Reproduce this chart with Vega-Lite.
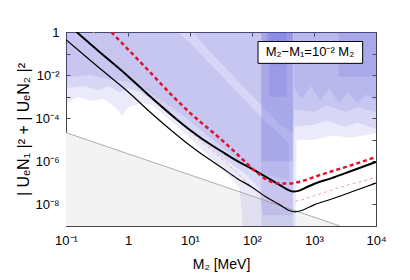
{
  "$schema": "https://vega.github.io/schema/vega-lite/v6.json",
  "width": 310,
  "height": 194,
  "autosize": {"type": "none"},
  "padding": {"left": 66, "top": 32, "right": 34, "bottom": 54},
  "background": "white",
  "config": {
    "font": "Liberation Sans",
    "view": {"stroke": "#444", "strokeWidth": 1},
    "axis": {"grid": false, "domain": false, "tickColor": "#444", "tickSize": -4, "labelFontSize": 13, "labelColor": "#000", "titleFontSize": 14, "titleFontWeight": "normal", "titleColor": "#000", "labelFont": "Liberation Sans", "titleFont": "Liberation Sans"}
  },
  "datasets": {
    "gray": [{"m": 0.1, "u": 2.14e-5}, {"m": 2630, "u": 1e-9}],
    "tb": [{"m":0.148,"u":1},{"m":0.316,"u":0.151},{"m":1,"u":8.91e-3},{"m":2.239,"u":1.07e-3},{"m":5.012,"u":1.41e-4},{"m":10,"u":2.82e-5},{"m":16.4,"u":1e-5},{"m":31.6,"u":3.02e-6},{"m":56.6,"u":1.07e-6},{"m":100,"u":4.47e-7},{"m":162,"u":2.0e-7},{"m":281.8,"u":7.94e-8},{"m":398,"u":4.47e-8},{"m":467.7,"u":3.98e-8},{"m":562.3,"u":4.27e-8},{"m":794,"u":6.61e-8},{"m":1000,"u":8.91e-8},{"m":1928,"u":1.66e-7},{"m":3981,"u":3.55e-7},{"m":10000,"u":9.33e-7}],
    "tn": [{"m":0.1,"u":0.437},{"m":0.316,"u":2.63e-2},{"m":1,"u":1.7e-3},{"m":2.239,"u":2.0e-4},{"m":5.012,"u":2.69e-5},{"m":10,"u":5.37e-6},{"m":16.4,"u":1.9e-6},{"m":31.6,"u":5.37e-7},{"m":56.6,"u":1.66e-7},{"m":100,"u":6.31e-8},{"m":162,"u":2.4e-8},{"m":281.8,"u":9.55e-9},{"m":398,"u":5.25e-9},{"m":489.8,"u":4.57e-9},{"m":631,"u":5.25e-9},{"m":1000,"u":9.55e-9},{"m":1928,"u":1.78e-8},{"m":3981,"u":3.8e-8},{"m":10000,"u":9.77e-8}],
    "rd": [{"m":0.537,"u":1},{"m":1,"u":0.158},{"m":2.239,"u":1.41e-2},{"m":5.37,"u":1e-3},{"m":10,"u":1.78e-4},{"m":15.85,"u":5.62e-5},{"m":26.9,"u":1.585e-5},{"m":50.1,"u":3.16e-6},{"m":79.4,"u":8.91e-7},{"m":117.5,"u":3.16e-7},{"m":173.8,"u":1.41e-7},{"m":251,"u":9.55e-8},{"m":398,"u":9.33e-8},{"m":631,"u":1.2e-7},{"m":1096,"u":2.04e-7},{"m":1995,"u":3.55e-7},{"m":3802,"u":6.31e-7},{"m":10000,"u":1.585e-6}],
    "pk": [{"m":0.275,"u":1},{"m":0.537,"u":0.135},{"m":1,"u":2.14e-2},{"m":2.239,"u":1.905e-3},{"m":5.37,"u":1.35e-4},{"m":10,"u":2.4e-5},{"m":15.85,"u":7.59e-6},{"m":26.9,"u":2.14e-6},{"m":50.1,"u":4.27e-7},{"m":79.4,"u":1.2e-7},{"m":117.5,"u":4.27e-8},{"m":173.8,"u":1.905e-8},{"m":251,"u":1.29e-8},{"m":398,"u":1.26e-8},{"m":631,"u":1.62e-8},{"m":1096,"u":2.75e-8},{"m":1995,"u":4.79e-8},{"m":3802,"u":8.51e-8},{"m":10000,"u":1.8e-7}],
    "env": [{"m":0.1,"lo":5.01e-4},{"m":0.158,"lo":1e-3},{"m":0.251,"lo":6.31e-4},{"m":0.398,"lo":7.94e-4},{"m":0.631,"lo":3.16e-4},{"m":0.794,"lo":1.26e-4},{"m":1,"lo":3.16e-4},{"m":1.585,"lo":5.01e-4},{"m":2.512,"lo":3.98e-4},{"m":3.981,"lo":1.26e-4},{"m":6.31,"lo":3.98e-5},{"m":10,"lo":1.26e-5},{"m":15.85,"lo":3.16e-6},{"m":31.6,"lo":5.01e-7},{"m":50.1,"lo":1.26e-7},{"m":63.1,"lo":5.01e-8},{"m":70.8,"lo":1e-9},{"m":501,"lo":1e-9},{"m":524.8,"lo":1e-5},{"m":1000,"lo":1e-5},{"m":1995,"lo":1.585e-5},{"m":3981,"lo":1.26e-5},{"m":10000,"lo":2.0e-5}],
    "r2": [{"m":0.1,"lo":2.51e-3},{"m":0.2,"lo":3.16e-3},{"m":0.316,"lo":2.0e-3},{"m":0.501,"lo":3.16e-3},{"m":0.708,"lo":1.585e-3},{"m":1,"lo":2.51e-3},{"m":1.585,"lo":1.585e-3},{"m":2.512,"lo":6.31e-4},{"m":3.981,"lo":2.51e-4},{"m":6.31,"lo":7.94e-5},{"m":10,"lo":2.51e-5},{"m":19.95,"lo":5.01e-6},{"m":39.8,"lo":1e-6},{"m":79.4,"lo":2.51e-7},{"m":125.9,"lo":6.31e-8},{"m":151.4,"lo":3.16e-9},{"m":457,"lo":3.16e-9},{"m":478.6,"lo":3.98e-5},{"m":1000,"lo":5.01e-5},{"m":1585,"lo":7.94e-5},{"m":3162,"lo":3.98e-5},{"m":5012,"lo":6.31e-5},{"m":10000,"lo":3.16e-5}],
    "r3": [{"m":0.1,"lo":7.94e-3,"hi":1},{"m":0.251,"lo":1e-2,"hi":1},{"m":0.501,"lo":6.31e-3,"hi":1},{"m":1,"lo":5.01e-3,"hi":1},{"m":1.995,"lo":2.0e-3,"hi":1},{"m":3.981,"lo":5.01e-4,"hi":1},{"m":6.31,"lo":2.0e-4,"hi":1},{"m":7.943,"lo":1.26e-4,"hi":0.562},{"m":10,"lo":7.08e-5,"hi":0.316},{"m":15.85,"lo":2.51e-5,"hi":7.94e-2},{"m":31.6,"lo":5.01e-6,"hi":1e-2},{"m":63.1,"lo":1e-6,"hi":1.26e-3},{"m":100,"lo":3.98e-7,"hi":3.16e-4},{"m":125.9,"lo":3.16e-7,"hi":1.585e-4},{"m":158.5,"lo":2.51e-7,"hi":7.94e-5},{"m":251,"lo":1.78e-7,"hi":2.51e-5},{"m":398,"lo":1.26e-7,"hi":6.31e-6}],
    "r4": [{"m":11.2,"lo":1},{"m":17.8,"lo":0.2},{"m":35.5,"lo":2.51e-2},{"m":70.8,"lo":3.16e-3},{"m":141,"lo":3.98e-4},{"m":282,"lo":5.01e-5},{"m":457,"lo":2.0e-5},{"m":478.6,"lo":2.51e-4},{"m":1000,"lo":2.0e-4},{"m":1585,"lo":3.98e-4},{"m":3162,"lo":2.0e-4},{"m":5012,"lo":3.16e-4},{"m":10000,"lo":2.0e-4}],
    "r5": [{"m":141,"lo":1e-9},{"m":457,"lo":1e-9}],
    "r6": [{"m":141,"lo":1e-6},{"m":457,"lo":1e-6}],
    "r7a": [{"m":170,"lo":0.0316},{"m":457,"lo":0.0316}],
    "r7b": [{"m":190,"lo":1e-3},{"m":360,"lo":1e-3}],
    "r8": [{"m":2512,"lo":8.3e-3},{"m":10000,"lo":8.3e-3}],
    "r9": [{"m":478.6,"lo":2.51e-3},{"m":631,"lo":7.94e-4},{"m":891,"lo":3.16e-3},{"m":1259,"lo":6.31e-4},{"m":1778,"lo":2.51e-3},{"m":2512,"lo":5.01e-4},{"m":3548,"lo":1.585e-3},{"m":5012,"lo":5.01e-4},{"m":7079,"lo":1.26e-3},{"m":10000,"lo":6.31e-4}],
    "box": [{"label": "M₂−M₁=10⁻² M₂"}]
  },
  "resolve": {"axis": {"x": "independent", "y": "independent"}},
  "layer": [
    {
      "data": {"name": "gray"},
      "mark": {"type": "area", "color": "#f3f3f3", "clip": true},
      "encoding": {
        "x": {"field": "m", "type": "quantitative", "scale": {"type": "log", "domain": [0.1, 10000]},
              "axis": {"orient": "bottom", "values": [0.1, 1, 10, 100, 1000, 10000], "labelExpr": "datum.value < 0.5 ? '10⁻¹' : datum.value < 5 ? '1' : datum.value < 50 ? '10¹' : datum.value < 500 ? '10²' : datum.value < 5000 ? '10³' : '10⁴'", "title": "M₂ [MeV]", "labelPadding": 12, "titlePadding": 10, "labelFlush": false, "labelOverlap": false}},
        "y": {"field": "u", "type": "quantitative", "scale": {"type": "log", "domain": [1e-9, 1]},
              "axis": {"orient": "left", "values": [1e-9, 1e-8, 1e-7, 1e-6, 1e-5, 1e-4, 1e-3, 1e-2, 1e-1, 1], "labelExpr": "abs(datum.value-1) < 0.1 ? '1' : (datum.value > 5e-3 && datum.value < 2e-2) ? '10⁻²' : (datum.value > 5e-5 && datum.value < 2e-4) ? '10⁻⁴' : (datum.value > 5e-7 && datum.value < 2e-6) ? '10⁻⁶' : (datum.value > 5e-9 && datum.value < 2e-8) ? '10⁻⁸' : ''", "title": "| UₑN₁ |² + | UₑN₂ |²", "titleFontSize": 16, "labelPadding": 11, "titlePadding": 3, "labelFlush": false, "labelOverlap": false}},
        "y2": {"datum": 1e-9}
      }
    },
    {"data": {"name": "env"}, "mark": {"type": "area", "color": "#5252d8", "opacity": 0.12, "clip": true},
     "encoding": {"x": {"field": "m", "type": "quantitative", "scale": {"type": "log", "domain": [0.1, 10000]}, "axis": null}, "y": {"field": "lo", "type": "quantitative", "scale": {"type": "log", "domain": [1e-9, 1]}, "axis": null}, "y2": {"datum": 1}}},
    {"data": {"name": "r2"}, "mark": {"type": "area", "color": "#5252d8", "opacity": 0.12, "clip": true},
     "encoding": {"x": {"field": "m", "type": "quantitative", "scale": {"type": "log", "domain": [0.1, 10000]}, "axis": null}, "y": {"field": "lo", "type": "quantitative", "scale": {"type": "log", "domain": [1e-9, 1]}, "axis": null}, "y2": {"datum": 1}}},
    {"data": {"name": "r3"}, "mark": {"type": "area", "color": "#5252d8", "opacity": 0.13, "clip": true},
     "encoding": {"x": {"field": "m", "type": "quantitative", "scale": {"type": "log", "domain": [0.1, 10000]}, "axis": null}, "y": {"field": "lo", "type": "quantitative", "scale": {"type": "log", "domain": [1e-9, 1]}, "axis": null}, "y2": {"field": "hi"}}},
    {"data": {"name": "r4"}, "mark": {"type": "area", "color": "#5252d8", "opacity": 0.13, "clip": true},
     "encoding": {"x": {"field": "m", "type": "quantitative", "scale": {"type": "log", "domain": [0.1, 10000]}, "axis": null}, "y": {"field": "lo", "type": "quantitative", "scale": {"type": "log", "domain": [1e-9, 1]}, "axis": null}, "y2": {"datum": 1}}},
    {"data": {"name": "r5"}, "mark": {"type": "area", "color": "#5252d8", "opacity": 0.12, "clip": true},
     "encoding": {"x": {"field": "m", "type": "quantitative", "scale": {"type": "log", "domain": [0.1, 10000]}, "axis": null}, "y": {"field": "lo", "type": "quantitative", "scale": {"type": "log", "domain": [1e-9, 1]}, "axis": null}, "y2": {"datum": 1}}},
    {"data": {"name": "r6"}, "mark": {"type": "area", "color": "#5252d8", "opacity": 0.15, "clip": true},
     "encoding": {"x": {"field": "m", "type": "quantitative", "scale": {"type": "log", "domain": [0.1, 10000]}, "axis": null}, "y": {"field": "lo", "type": "quantitative", "scale": {"type": "log", "domain": [1e-9, 1]}, "axis": null}, "y2": {"datum": 1}}},
    {"data": {"name": "r7a"}, "mark": {"type": "area", "color": "#5252d8", "opacity": 0.18, "clip": true},
     "encoding": {"x": {"field": "m", "type": "quantitative", "scale": {"type": "log", "domain": [0.1, 10000]}, "axis": null}, "y": {"field": "lo", "type": "quantitative", "scale": {"type": "log", "domain": [1e-9, 1]}, "axis": null}, "y2": {"datum": 1}}},
    {"data": {"name": "r7b"}, "mark": {"type": "area", "color": "#5252d8", "opacity": 0.16, "clip": true},
     "encoding": {"x": {"field": "m", "type": "quantitative", "scale": {"type": "log", "domain": [0.1, 10000]}, "axis": null}, "y": {"field": "lo", "type": "quantitative", "scale": {"type": "log", "domain": [1e-9, 1]}, "axis": null}, "y2": {"datum": 1}}},
    {"data": {"name": "r8"}, "mark": {"type": "area", "color": "#5252d8", "opacity": 0.14, "clip": true},
     "encoding": {"x": {"field": "m", "type": "quantitative", "scale": {"type": "log", "domain": [0.1, 10000]}, "axis": null}, "y": {"field": "lo", "type": "quantitative", "scale": {"type": "log", "domain": [1e-9, 1]}, "axis": null}, "y2": {"datum": 1}}},
    {"data": {"name": "r9"}, "mark": {"type": "area", "color": "#5252d8", "opacity": 0.12, "clip": true},
     "encoding": {"x": {"field": "m", "type": "quantitative", "scale": {"type": "log", "domain": [0.1, 10000]}, "axis": null}, "y": {"field": "lo", "type": "quantitative", "scale": {"type": "log", "domain": [1e-9, 1]}, "axis": null}, "y2": {"datum": 1}}},
    {
      "data": {"name": "gray"},
      "mark": {"type": "line", "color": "#999999", "strokeWidth": 0.8, "clip": true},
      "encoding": {
        "x": {"field": "m", "type": "quantitative", "scale": {"type": "log", "domain": [0.1, 10000]},
              "axis": {"orient": "top", "values": [0.1, 1, 10, 100, 1000, 10000], "labels": false, "title": null}},
        "y": {"field": "u", "type": "quantitative", "scale": {"type": "log", "domain": [1e-9, 1]},
              "axis": {"orient": "right", "values": [1e-9, 1e-8, 1e-7, 1e-6, 1e-5, 1e-4, 1e-3, 1e-2, 1e-1, 1], "labels": false, "title": null}}
      }
    },
    {"data": {"name": "pk"}, "mark": {"type": "line", "color": "#f4a3a3", "strokeWidth": 1, "strokeDash": [3, 3], "clip": true},
     "encoding": {"x": {"field": "m", "type": "quantitative", "scale": {"type": "log", "domain": [0.1, 10000]}, "axis": null}, "y": {"field": "u", "type": "quantitative", "scale": {"type": "log", "domain": [1e-9, 1]}, "axis": null}}},
    {"data": {"name": "tn"}, "mark": {"type": "line", "color": "#000000", "strokeWidth": 1.2, "clip": true, "interpolate": "monotone"},
     "encoding": {"x": {"field": "m", "type": "quantitative", "scale": {"type": "log", "domain": [0.1, 10000]}, "axis": null}, "y": {"field": "u", "type": "quantitative", "scale": {"type": "log", "domain": [1e-9, 1]}, "axis": null}}},
    {"data": {"name": "tb"}, "mark": {"type": "line", "color": "#000000", "strokeWidth": 2, "clip": true, "interpolate": "monotone"},
     "encoding": {"x": {"field": "m", "type": "quantitative", "scale": {"type": "log", "domain": [0.1, 10000]}, "axis": null}, "y": {"field": "u", "type": "quantitative", "scale": {"type": "log", "domain": [1e-9, 1]}, "axis": null}}},
    {"data": {"name": "rd"}, "mark": {"type": "line", "color": "#e3102c", "strokeWidth": 2.5, "strokeDash": [4, 3], "clip": true, "interpolate": "monotone"},
     "encoding": {"x": {"field": "m", "type": "quantitative", "scale": {"type": "log", "domain": [0.1, 10000]}, "axis": null}, "y": {"field": "u", "type": "quantitative", "scale": {"type": "log", "domain": [1e-9, 1]}, "axis": null}}},
    {"data": {"name": "box"}, "mark": {"type": "rect", "fill": "white", "stroke": "#000000", "strokeWidth": 1},
     "encoding": {"x": {"datum": 125, "type": "quantitative", "scale": {"type": "log", "domain": [0.1, 10000]}, "axis": null}, "x2": {"datum": 6095}, "y": {"datum": 0.362, "type": "quantitative", "scale": {"type": "log", "domain": [1e-9, 1]}, "axis": null}, "y2": {"datum": 0.0351}}},
    {"data": {"name": "box"}, "mark": {"type": "text", "fontSize": 13, "align": "center", "baseline": "middle", "color": "#000000"},
     "encoding": {"x": {"datum": 861, "type": "quantitative", "scale": {"type": "log", "domain": [0.1, 10000]}, "axis": null}, "y": {"datum": 0.1127, "type": "quantitative", "scale": {"type": "log", "domain": [1e-9, 1]}, "axis": null}, "text": {"field": "label"}}}
  ]
}
